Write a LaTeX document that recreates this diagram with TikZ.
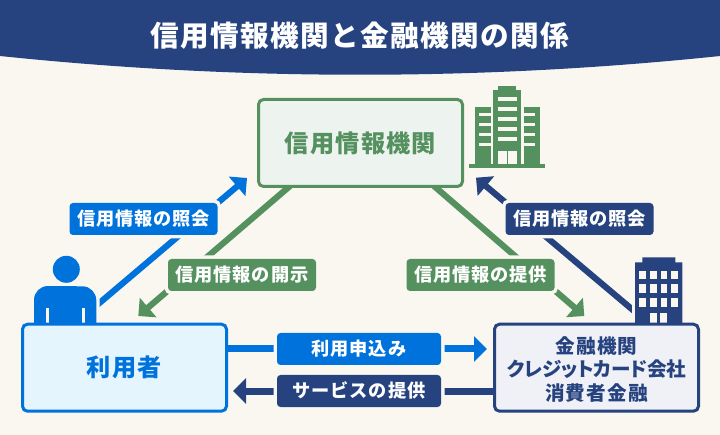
\documentclass[tikz,border=0pt]{standalone}
\usepackage{fontspec}
\setmainfont{Noto Sans CJK JP}
\newfontfamily\spaced[LetterSpace=5]{Noto Sans CJK JP}
\newfontfamily\paltfont[LetterSpace=6,RawFeature=+palt]{Noto Sans CJK JP}
\newfontfamily\kanafont[LetterSpace=-1,RawFeature=+palt]{Noto Sans CJK JP}
\usetikzlibrary{arrows.meta}
\definecolor{navyblue}{HTML}{264380}
\definecolor{userblue}{HTML}{0072DB}
\definecolor{bankgreen}{HTML}{55915F}
\definecolor{paper}{HTML}{FAF7F0}
\definecolor{userpale}{HTML}{E5F5FD}
\definecolor{agencypale}{HTML}{EDF3EF}
\definecolor{lenderpale}{HTML}{EFF1F6}
\pgfdeclarelayer{behind}
\pgfsetlayers{behind,main}
\tikzset{
  party/.style={draw=#1, text=#1, line width=3pt, rounded corners=5pt, inner sep=0pt,
    minimum width=204pt, minimum height=87pt, align=center, font=\spaced\bfseries},
  tag/.style={fill=#1, text=white, rounded corners=3.5pt, inner sep=0pt, minimum height=32pt,
    text height=15.9pt, text depth=2.1pt,
    preaction={draw=paper, line width=7pt}, font=\spaced\fontsize{18.2}{22}\bfseries},
  flow/.style={draw=#1, line width=7pt, -{Triangle[length=13pt,width=25pt]}},
  slant/.style={draw=#1, line width=6.2pt, -{Triangle[length=13pt,width=25pt]}}
}
\begin{document}
\begin{tikzpicture}[x=1pt, y=-1pt]
  \useasboundingbox (0, 0) rectangle (720, 435);
  \begin{pgfonlayer}{behind}
    \fill[paper] (0, 0) rectangle (720, 435);
  \end{pgfonlayer}
  \fill[navyblue] (0, 0) -- (720, 0) -- (720, 56) .. controls (480, 81) and (240, 81) .. (0, 56) -- cycle;
  \node[text=white, text height=25.2pt, text depth=3.4pt, font=\spaced\fontsize{28.6}{34}\bfseries] (title) at (360, 36) {信用情報機関と金融機関の関係};
  % person
  \fill[userblue, preaction={draw=paper, line width=6.6pt}] (34, 323) -- (34, 300) arc (180:270:14) -- (82.3, 286.3) arc (270:360:14) -- (96.3, 323) -- cycle;
  \fill[userblue] (66.3, 269.3) circle (13.5);
  \fill[paper] (45.7, 308.3) rectangle (48.7, 323);
  \fill[paper] (82, 308.3) rectangle (85, 323);
  % bank building
  \fill[navyblue, preaction={draw=paper, line width=6.6pt}] (635, 323) -- (635, 262.3) -- (642.3, 262.3) -- (642.3, 257.3) -- (675.3, 257.3) -- (675.3, 262.3) -- (682.3, 262.3) -- (682.3, 323) -- cycle;
  \foreach \wx in {639.3, 650, 660.7, 671.3}
    \foreach \wy in {270.7, 284, 298.3}
      \fill[paper] (\wx, \wy) rectangle ++(6.6, 8.6);
  \fill[paper] (650, 312.7) rectangle (657.3, 323);
  \fill[paper] (660, 312.7) rectangle (667.3, 323);
  % agency building
  \fill[bankgreen] (469, 164) rectangle (545.3, 167.7);
  \fill[bankgreen] (493, 90) rectangle (521, 164);
  \fill[bankgreen] (498, 86) rectangle (516, 90);
  \fill[bankgreen] (474.7, 106.7) rectangle (491, 164);
  \fill[bankgreen] (523.7, 106.7) rectangle (540, 164);
  \foreach \wy in {96.7, 106.7, 116.7, 126.7, 136.7}
    \fill[paper] (497.7, \wy) rectangle (516.7, \wy + 4);
  \foreach \wy in {112.7, 122.7, 132.7, 142.7} {
    \fill[paper] (479.3, \wy) rectangle (491, \wy + 3.6);
    \fill[paper] (523.7, \wy) rectangle (535.3, \wy + 3.6);
  }
  \fill[paper] (497.7, 150.7) rectangle (506.7, 164);
  \fill[paper] (508.3, 150.7) rectangle (516.7, 164);
  % parties
  \node[party=bankgreen, fill=agencypale, text height=21.3pt, text depth=2.9pt, font=\spaced\fontsize{24.2}{29}\bfseries] (agency) at (360.5, 143) {信用情報機関};
  \node[party=userblue, fill=userpale, text height=21.3pt, text depth=2.9pt, font=\spaced\fontsize{24.2}{29}\bfseries] (user) at (124.5, 367.7) {利用者};
  \node[party=navyblue, fill=lenderpale, font=\paltfont\fontsize{19.6}{23.5}\bfseries] (lender) at (596.5, 367.7) {\rule{0pt}{20pt}金融機関\\{\kanafont\bfseries クレジットカード会社}\\消費者金融};
  % free ends of the slanted connectors
  \coordinate (userout) at (90, 311);
  \coordinate (agencyin) at (247, 178);
  \coordinate (agencyoutl) at (290, 186);
  \coordinate (userin) at (138.3, 316);
  \coordinate (agencyoutr) at (434, 186);
  \coordinate (lenderin) at (584.3, 316);
  \coordinate (lenderout) at (640, 316);
  \coordinate (buildingin) at (476, 177.7);
  % tags
  \node[tag=userblue, minimum width=148pt] (askl) at (143.5, 219) {信用情報の照会};
  \node[tag=navyblue, minimum width=148pt] (askr) at (579.5, 219) {信用情報の照会};
  \node[tag=bankgreen, minimum width=148pt] (disclose) at (242, 275) {信用情報の開示};
  \node[tag=bankgreen, minimum width=148pt] (provide) at (480.5, 275) {信用情報の提供};
  \node[tag=userblue, minimum width=164pt] (apply) at (359, 349) {利用申込み};
  \node[tag=navyblue, minimum width=164pt] (service) at (359, 391) {サービスの提供};
  % connectors
  \begin{pgfonlayer}{behind}
    \draw[slant=userblue] (userout) -- (agencyin);
    \draw[slant=bankgreen] (agencyoutl) -- (userin);
    \draw[slant=bankgreen] (agencyoutr) -- (lenderin);
    \draw[slant=navyblue] (lenderout) -- (buildingin);
    \draw[flow=userblue, shorten >=6pt] (user.east |- apply) -- (lender.west |- apply);
    \draw[flow=navyblue, shorten >=5pt] (lender.west |- service) -- (user.east |- service);
  \end{pgfonlayer}
\end{tikzpicture}
\end{document}
